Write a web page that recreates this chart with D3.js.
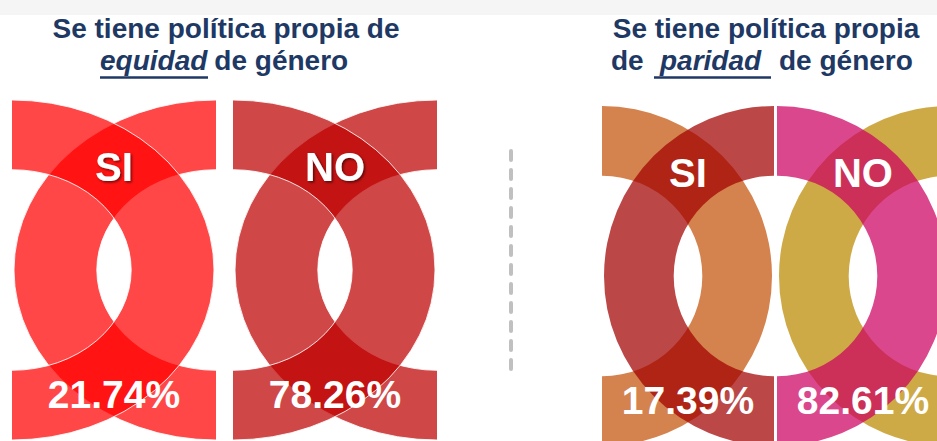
<!DOCTYPE html>
<html>
<head>
<meta charset="utf-8">
<style>
body { margin: 0; background: #fff; }
svg text { font-family: "Liberation Sans", Arial, sans-serif; font-weight: bold; }
</style>
</head>
<body>
<div id="chart"></div>
<script src="https://d3js.org/d3.v7.min.js"></script>
<script>
// answers and shares
const answers = ["SI", "NO"];
const equidadValues = [21.74, 78.26];
const paridadValues = [17.39, 82.61];

// title pieces: [line 1, before, underlined word, after]
const equidadTitle = ["Se tiene política propia de", "", "equidad", "de género"];
const paridadTitle = ["Se tiene política propia", "de", "paridad", "de género"];

// ring colours per panel: [ring centred on left edge, ring centred on right edge]
const equidadColors = [["#ff0000", "#ff0000"], ["#be0000", "#be0000"]];
const paridadColors = [["#c3530a", "#a20000"], ["#cc005f", "#bb8900"]];

const width = 937, height = 441;
const navy = "#203864";

const svg = d3.select("#chart").append("svg")
    .attr("width", width)
    .attr("height", height);

const defs = svg.append("defs");
const shadow = defs.append("filter").attr("id", "txt-shadow")
    .attr("x", "-20%").attr("y", "-20%").attr("width", "140%").attr("height", "160%");
shadow.append("feDropShadow")
    .attr("dx", 1.5).attr("dy", 1.5).attr("stdDeviation", 1)
    .attr("flood-color", "#000").attr("flood-opacity", 0.55);

// faint grey strip on top
svg.append("rect")
    .attr("x", 0).attr("y", 0).attr("width", width).attr("height", 15)
    .attr("fill", "#f5f5f5");

const groups = [
  { values: equidadValues, colors: equidadColors, title: equidadTitle,
    range: [12, 437], inner: 0.077, cy: 270, center: 226,
    outline: true, shadow: true, leftOnTop: [true, true],
    line2: { start: 100, under: [100, 208] } },
  { values: paridadValues, colors: paridadColors, title: paridadTitle,
    range: [602, 949], inner: 0.017, cy: 276, center: 766,
    outline: false, shadow: false, leftOnTop: [false, true],
    line2: { start: 611, word: 660, under: [654, 771], after: 779 } }
];

const Ry = 170, innerRatio = 0.59;
const ring = d3.arc()
    .innerRadius(Ry * innerRatio)
    .outerRadius(Ry)
    .startAngle(0)
    .endAngle(2 * Math.PI);

const fmt = d3.format(".2f");

groups.forEach(function(g, gi) {
  const x = d3.scaleBand()
      .domain(answers)
      .range(g.range)
      .paddingInner(g.inner);

  answers.forEach(function(ans, i) {
    const x0 = x(ans), w = x.bandwidth();
    const Rx = w - 2;
    const clipId = "clip-" + gi + "-" + i;

    defs.append("clipPath").attr("id", clipId)
      .append("rect")
        .attr("x", x0).attr("y", g.cy - Ry)
        .attr("width", w).attr("height", 2 * Ry);

    const panel = svg.append("g").attr("clip-path", "url(#" + clipId + ")");

    // ring 0 centred on the left edge, ring 1 on the right edge
    let rings = [{cx: x0, color: g.colors[i][0]}, {cx: x0 + w, color: g.colors[i][1]}];
    if (g.leftOnTop[i]) rings = [rings[1], rings[0]];

    panel.selectAll("path")
      .data(rings)
      .enter().append("path")
        .attr("d", ring())
        .attr("transform", d => "translate(" + d.cx + "," + g.cy + ") scale(" + (Rx / Ry) + ",1)")
        .attr("fill", d => d.color)
        .attr("fill-opacity", 0.72)
        .attr("stroke", g.outline ? "#fff" : "none")
        .attr("stroke-opacity", 0.85)
        .attr("stroke-width", 1)
        .attr("vector-effect", "non-scaling-stroke");

    const mid = x0 + w / 2;
    svg.append("text")
        .attr("x", mid).attr("y", g.cy - 89)
        .attr("text-anchor", "middle")
        .attr("font-size", 40)
        .attr("fill", "#fff")
        .attr("filter", g.shadow ? "url(#txt-shadow)" : null)
        .text(ans);

    svg.append("text")
        .attr("x", mid).attr("y", g.cy + 138)
        .attr("text-anchor", "middle")
        .attr("font-size", 39)
        .attr("fill", "#fff")
        .text(fmt(g.values[i]) + "%");
  });

  // titles
  svg.append("text")
      .attr("x", g.center).attr("y", 38)
      .attr("text-anchor", "middle")
      .attr("font-size", 28)
      .attr("fill", navy)
      .text(g.title[0]);

  const l2 = g.line2;
  if (g.title[1]) {
    svg.append("text")
        .attr("x", l2.start).attr("y", 70)
        .attr("font-size", 28).attr("fill", navy)
        .text(g.title[1]);
  }
  const word = svg.append("text")
      .attr("x", l2.word || l2.start).attr("y", 70)
      .attr("font-size", 28).attr("font-style", "italic").attr("fill", navy)
      .text(g.title[2]);
  const wEnd = (l2.word || l2.start) + word.node().getComputedTextLength();
  svg.append("text")
      .attr("x", l2.after || wEnd + 7).attr("y", 70)
      .attr("font-size", 28).attr("fill", navy)
      .text(g.title[3]);
  svg.append("line")
      .attr("x1", l2.under[0]).attr("x2", l2.under[1])
      .attr("y1", 77.5).attr("y2", 77.5)
      .attr("stroke", navy).attr("stroke-width", 2.5);
});

// dashed divider between the two groups
svg.append("line")
    .attr("x1", 511).attr("x2", 511)
    .attr("y1", 151).attr("y2", 370)
    .attr("stroke", "#c0c0c0")
    .attr("stroke-width", 4)
    .attr("stroke-linecap", "round")
    .attr("stroke-dasharray", "9 10");
</script>
</body>
</html>
